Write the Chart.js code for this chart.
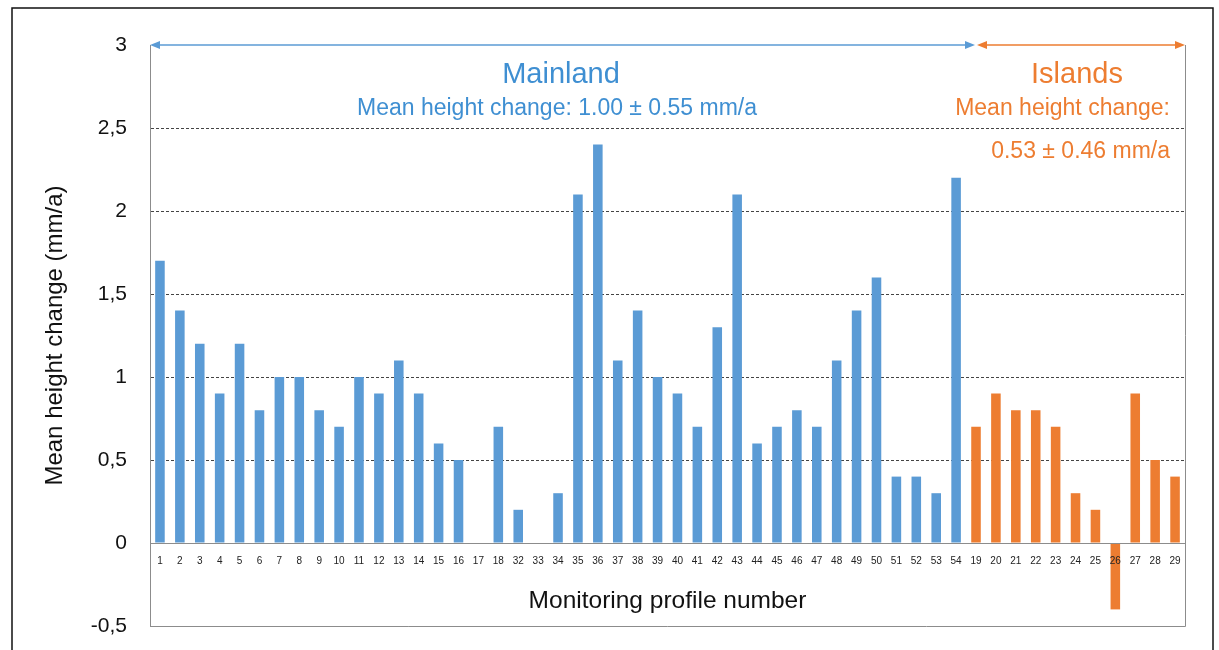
<!DOCTYPE html>
<html>
<head>
<meta charset="utf-8">
<script src="https://cdn.jsdelivr.net/npm/chart.js@4"></script>
<style>
  body { margin: 0; background: #fff; }
  #wrap { width: 1219px; height: 650px; position: relative; }
</style>
</head>
<body>
<div id="wrap"><canvas id="heightChart"></canvas></div>
<script>
// profile numbers in the order they appear along the coast
const mainlandProfiles = ['1','2','3','4','5','6','7','8','9','10','11','12','13','14','15','16','17','18','32','33','34',
  '35','36','37','38','39','40','41','42','43','44','45','46','47','48','49','50','51','52','53','54'];
const islandProfiles = ['19','20','21','22','23','24','25','26','27','28','29'];

// mean height change in mm/a (17 and 33 have no value)
const mainlandValues = [1.7, 1.4, 1.2, 0.9, 1.2, 0.8, 1.0, 1.0, 0.8, 0.7, 1.0, 0.9, 1.1, 0.9, 0.6, 0.5, null, 0.7, 0.2, null, 0.3,
  2.1, 2.4, 1.1, 1.4, 1.0, 0.9, 0.7, 1.3, 2.1, 0.6, 0.7, 0.8, 0.7, 1.1, 1.4, 1.6, 0.4, 0.4, 0.3, 2.2];
const islandValues = [0.7, 0.9, 0.8, 0.8, 0.7, 0.3, 0.2, -0.4, 0.9, 0.5, 0.4];

const yTicks = [-0.5, 0, 0.5, 1, 1.5, 2, 2.5, 3];

const blue = '#5B9BD5';
const blueText = '#3F8FD2';
const orange = '#ED7D31';
const font = 'Arial, "Liberation Sans", sans-serif';

const labels = mainlandProfiles.concat(islandProfiles);
const padNulls = n => new Array(n).fill(null);

const overlay = {
  id: 'overlay',
  afterDraw(chart) {
    const c = chart.ctx;
    const a = chart.chartArea;
    const x = chart.scales.x;
    const split = x.getPixelForValue(mainlandProfiles.length);
    c.save();
    // outer frame
    c.strokeStyle = '#111';
    c.lineWidth = 1.5;
    c.strokeRect(12, 8, 1201, 660);
    // plot box right and bottom
    c.strokeStyle = '#8c8c8c';
    c.lineWidth = 1;
    c.beginPath();
    c.moveTo(a.right + 0.5, a.top);
    c.lineTo(a.right + 0.5, a.bottom + 0.5);
    c.lineTo(a.left, a.bottom + 0.5);
    c.stroke();

    function arrow(x1, x2, y, col) {
      c.strokeStyle = col;
      c.fillStyle = col;
      c.lineWidth = 1.5;
      c.beginPath();
      c.moveTo(x1 + 4, y);
      c.lineTo(x2 - 4, y);
      c.stroke();
      [[x1, 1], [x2, -1]].forEach(([px, d]) => {
        c.beginPath();
        c.moveTo(px, y);
        c.lineTo(px + d * 10, y - 4);
        c.lineTo(px + d * 10, y + 4);
        c.closePath();
        c.fill();
      });
    }
    arrow(a.left, split - 1, a.top, blue);
    arrow(split + 1, a.right, a.top, orange);

    c.textBaseline = 'alphabetic';
    c.textAlign = 'center';
    c.fillStyle = blueText;
    c.font = '29px ' + font;
    c.fillText('Mainland', 561, 83);
    c.font = '23px ' + font;
    c.fillText('Mean height change: 1.00 \u00b1 0.55 mm/a', 557, 115);

    c.fillStyle = orange;
    c.font = '29px ' + font;
    c.fillText('Islands', 1077, 83);
    c.textAlign = 'right';
    c.font = '23px ' + font;
    c.fillText('Mean height change:', 1170, 115);
    c.fillText('0.53 \u00b1 0.46 mm/a', 1170, 158);
    c.restore();
  }
};

new Chart(document.getElementById('heightChart'), {
  type: 'bar',
  data: {
    labels: labels,
    datasets: [{
      label: 'Mainland',
      data: mainlandValues.concat(padNulls(islandProfiles.length)),
      backgroundColor: blue
    }, {
      label: 'Islands',
      data: padNulls(mainlandProfiles.length).concat(islandValues),
      backgroundColor: orange
    }]
  },
  options: {
    responsive: true,
    maintainAspectRatio: false,
    animation: false,
    grouped: false,
    barPercentage: 0.48,
    categoryPercentage: 1,
    layout: { padding: { left: 12, top: 45, right: 34, bottom: 24 } },
    plugins: { legend: { display: false }, tooltip: { enabled: false } },
    scales: {
      x: {
        position: { y: 0 },
        grid: { display: false },
        border: { color: '#8c8c8c', width: 1, z: 1 },
        ticks: {
          autoSkip: false, maxRotation: 0, padding: 4, z: 1,
          color: '#222', font: { size: 10, family: font }
        },
        title: {
          display: true,
          text: 'Monitoring profile number',
          color: '#111',
          font: { size: 24.5, family: font },
          padding: { top: 16, bottom: 0 }
        }
      },
      y: {
        min: -0.5,
        max: 3,
        afterFit(scale) {
          scale.width = 138;
          scale.paddingTop = 0;
          scale.paddingBottom = 0;
        },
        afterBuildTicks(scale) { scale.ticks = yTicks.map(v => ({ value: v })); },
        grid: {
          drawTicks: false,
          color: ctx => (ctx.tick && (ctx.tick.value === 0 || ctx.tick.value === 3 || ctx.tick.value === -0.5)) ? 'rgba(0,0,0,0)' : '#444'
        },
        border: { color: '#8c8c8c', width: 1, dash: [3, 2] },
        ticks: {
          padding: 23,
          color: '#111',
          font: { size: 21, family: font },
          callback: v => String(v).replace('.', ',')
        },
        title: {
          display: true,
          text: 'Mean height change (mm/a)',
          color: '#111',
          font: { size: 24, family: font },
          padding: { top: 29, bottom: 0 }
        }
      }
    }
  },
  plugins: [overlay]
});
</script>
</body>
</html>
